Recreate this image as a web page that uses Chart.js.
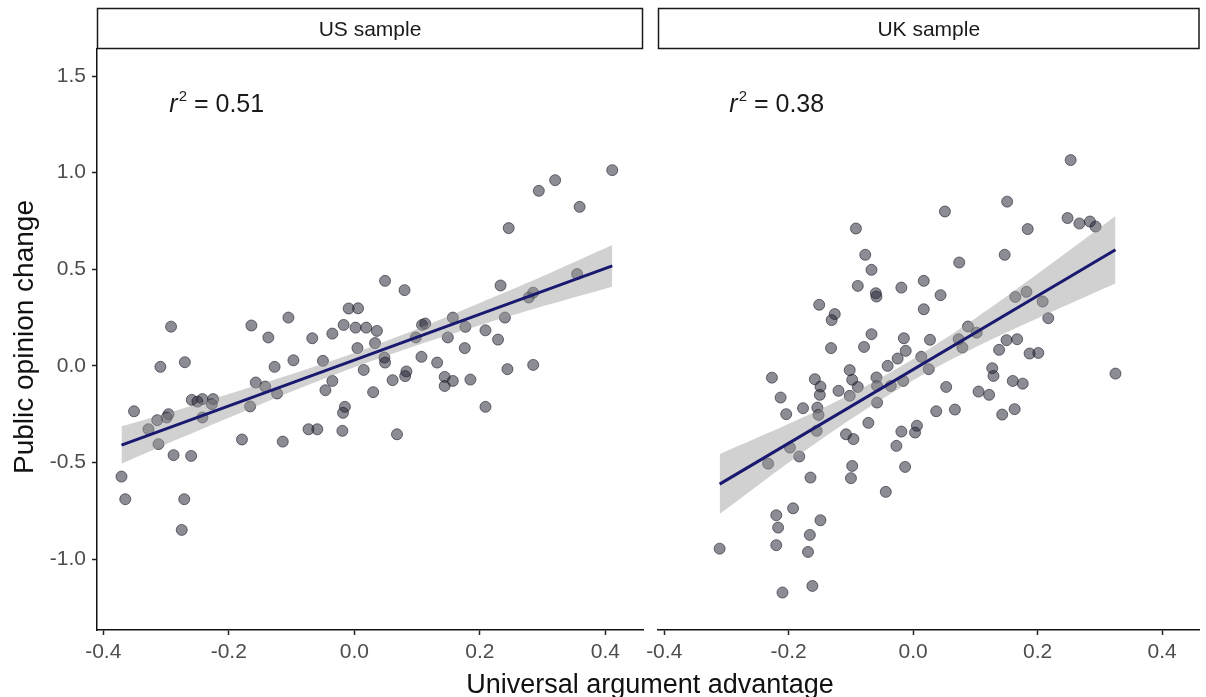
<!DOCTYPE html>
<html>
<head>
<meta charset="utf-8">
<script src="https://cdn.jsdelivr.net/npm/chart.js@4.4.0/dist/chart.umd.min.js"></script>
<style>
  body { margin: 0; background: #fff; }
  #wrap { position: relative; width: 1206px; height: 697px; font-family: 'Liberation Sans', Arial, sans-serif; }
  canvas { position: absolute; top: 0; }
  #us { left: 0; }
  #uk { left: 640px; }
  .ytitle { position: absolute; left: 24px; top: 337px; transform: translate(-50%, -50%) rotate(-90deg); font-size: 28px; color: #111; white-space: nowrap; }
  .xtitle { position: absolute; left: 650px; top: 684px; transform: translate(-50%, -50%); font-size: 27px; color: #111; white-space: nowrap; }
</style>
</head>
<body>
<div id="wrap">
  <canvas id="us" width="650" height="697"></canvas>
  <canvas id="uk" width="566" height="697"></canvas>
  <div class="ytitle">Public opinion change</div>
  <div class="xtitle">Universal argument advantage</div>
</div>
<script>
// Axis ticks shared by both facets.
const xTicks = [-0.4, -0.2, 0.0, 0.2, 0.4];
const yTicks = [-1.0, -0.5, 0.0, 0.5, 1.0, 1.5];

// US sample points.
const usX = [-0.371, -0.365, -0.271, -0.275, -0.351, -0.328, -0.314, -0.296, -0.299, -0.312, -0.288, -0.26,
  -0.309, -0.27, -0.292, -0.259, -0.25, -0.242, -0.225, -0.227, -0.242, -0.164, -0.105, -0.137, -0.067, -0.035,
  -0.009, 0.006, -0.017, 0.002, 0.019, 0.036, 0.005, 0.033, 0.015, 0.03, -0.157, -0.142, -0.127, -0.097, -0.123,
  -0.166, -0.179, -0.114, -0.073, -0.059, -0.019, -0.05, -0.035, -0.046, -0.015, -0.018, 0.049, 0.08, 0.048,
  0.049, 0.061, 0.068, 0.083, 0.081, 0.107, 0.108, 0.113, 0.098, 0.132, 0.144, 0.144, 0.157, 0.185, 0.176, 0.177,
  0.157, 0.149, 0.411, 0.32, 0.294, 0.359, 0.246, 0.355, 0.233, 0.285, 0.278, 0.24, 0.209, 0.229, 0.244, 0.285, 0.209];
const usY = [-0.573, -0.69, -0.69, -0.849, -0.235, -0.328, -0.281, -0.25, -0.267, -0.405, -0.462, -0.466,
  -0.005, 0.019, 0.203, -0.176, -0.185, -0.172, -0.172, -0.198, -0.267, 0.209, 0.25, 0.147, 0.143, 0.167,
  0.297, 0.298, 0.212, 0.198, 0.198, 0.181, 0.092, 0.118, -0.021, -0.136, -0.086, -0.107, -0.005, 0.029, -0.143,
  -0.21, -0.381, -0.392, -0.328, -0.328, -0.336, 0.026, -0.078, -0.126, -0.212, -0.243, 0.44, 0.392, 0.043,
  0.017, -0.074, -0.354, -0.029, -0.053, 0.047, 0.212, 0.219, 0.147, 0.017, -0.057, -0.104, -0.078, -0.071, 0.092, 0.202,
  0.25, 0.147, 1.013, 0.961, 0.906, 0.823, 0.713, 0.475, 0.416, 0.379, 0.354, 0.25, 0.184, 0.136, -0.017, 0.005, -0.212];

// UK sample points.
const ukX = [-0.092, -0.077, -0.067, -0.089, -0.06, -0.059, -0.019, -0.151, -0.126, -0.131, -0.132, -0.067, -0.079,
  -0.015, -0.012, -0.025, -0.041, -0.227, -0.213, -0.204, -0.177, -0.158, -0.149, -0.15, -0.154, -0.152, -0.155,
  -0.12, -0.098, -0.089, -0.102, -0.059, -0.058, -0.058, -0.072, -0.108, -0.096, -0.198, -0.183, -0.233, -0.165,
  -0.098, -0.1, -0.044, -0.027, -0.013, -0.019, 0.003, 0.006, -0.193, -0.22, -0.217, -0.22, -0.149, -0.166, -0.169,
  -0.162, -0.21, -0.311, -0.102, -0.036, -0.016, 0.017, 0.017, 0.027, 0.013, 0.025, 0.074, 0.147, 0.044, 0.088,
  0.073, 0.079, 0.102, 0.164, 0.182, 0.208, 0.217, 0.15, 0.167, 0.138, 0.187, 0.201, 0.127, 0.129, 0.16, 0.176,
  0.105, 0.122, 0.163, 0.143, 0.053, 0.067, 0.037, 0.325, 0.253, 0.151, 0.051, 0.184, 0.248, 0.267, 0.284, 0.293];
const ukY = [0.711, 0.575, 0.497, 0.414, 0.376, 0.359, 0.405, 0.316, 0.268, 0.237, 0.092, 0.164, 0.098,
  0.143, 0.078, 0.038, 0.0, -0.061, -0.164, -0.25, -0.219, -0.069, -0.107, -0.15, -0.216, -0.254, -0.336,
  -0.129, -0.072, -0.109, -0.155, -0.06, -0.104, -0.19, -0.295, -0.354, -0.379, -0.423, -0.469, -0.506, -0.578,
  -0.518, -0.581, -0.652, -0.414, -0.523, -0.34, -0.345, -0.31, -0.737, -0.773, -0.837, -0.928, -0.799, -0.875, -0.963,
  -1.139, -1.173, -0.946, -0.022, -0.104, -0.078, 0.44, 0.293, 0.135, 0.047, -0.017, 0.535, 0.575, 0.366, 0.204,
  0.138, 0.095, 0.172, 0.357, 0.383, 0.333, 0.247, 0.133, 0.138, 0.083, 0.064, 0.067, -0.012, -0.052, -0.078, -0.092,
  -0.133, -0.15, -0.224, -0.252, -0.109, -0.226, -0.235, -0.04, 1.065, 0.85, 0.799, 0.708, 0.765, 0.737, 0.747, 0.721];

// Fitted lines and their confidence bands.
const usFitX = [-0.371, 0.411];
const usFitY = [-0.410, 0.518];
const usBandX = [-0.371, -0.3, -0.2, -0.1, 0.0, 0.1, 0.2, 0.3, 0.411];
const usBandHigh = [-0.313, -0.246, -0.145, -0.043, 0.067, 0.191, 0.326, 0.464, 0.626];
const usBandLow = [-0.507, -0.406, -0.269, -0.133, -0.007, 0.107, 0.210, 0.308, 0.410];

const ukFitX = [-0.311, 0.325];
const ukFitY = [-0.612, 0.601];
const ukBandX = [-0.311, -0.2, -0.1, 0.0, 0.1, 0.2, 0.325];
const ukBandHigh = [-0.457, -0.300, -0.145, 0.036, 0.247, 0.477, 0.776];
const ukBandLow = [-0.767, -0.500, -0.275, -0.074, 0.097, 0.247, 0.426];

const FONT = "'Liberation Sans', Arial, sans-serif";

function pairs(xs, ys) {
  return xs.map((x, i) => ({ x, y: ys[i] }));
}

// Draws the ggplot-style facet strip and the r^2 label.
const facetPlugin = {
  id: 'facet',
  afterDraw(chart, args, opts) {
    const { ctx, chartArea } = chart;
    ctx.save();
    ctx.strokeStyle = '#1a1a1a';
    ctx.lineWidth = 1.5;
    ctx.strokeRect(chartArea.left + 0.5, 8.5, chartArea.right - chartArea.left - 1, 40);
    ctx.fillStyle = '#1a1a1a';
    ctx.font = '21px ' + FONT;
    ctx.textAlign = 'center';
    ctx.textBaseline = 'middle';
    ctx.fillText(opts.label, (chartArea.left + chartArea.right) / 2, 30);

    // r^2 = value, centred at a data position
    const cx = chart.scales.x.getPixelForValue(-0.22);
    const cy = chart.scales.y.getPixelForValue(1.36);
    const rest = ' = ' + opts.r2;
    ctx.textAlign = 'left';
    ctx.textBaseline = 'alphabetic';
    ctx.font = 'italic 25px ' + FONT;
    const w1 = ctx.measureText('r').width;
    ctx.font = '15px ' + FONT;
    const w2 = ctx.measureText('2').width;
    ctx.font = '25px ' + FONT;
    const w3 = ctx.measureText(rest).width;
    const x0 = cx - (w1 + w2 + w3) / 2;
    const base = cy + 9;
    ctx.font = 'italic 25px ' + FONT;
    ctx.fillText('r', x0, base);
    ctx.font = '15px ' + FONT;
    ctx.fillText('2', x0 + w1 + 1, base - 11);
    ctx.font = '25px ' + FONT;
    ctx.fillText(rest, x0 + w1 + w2 + 1, base);
    ctx.restore();
  },
};

function makePanel(id, pts, fitX, fitY, bandX, bandLow, bandHigh, opts) {
  return new Chart(document.getElementById(id), {
    type: 'scatter',
    data: {
      datasets: [
        {
          type: 'line',
          data: pairs(fitX, fitY),
          borderColor: '#191970',
          borderWidth: 3,
          pointRadius: 0,
          fill: false,
          order: 1,
        },
        {
          type: 'line',
          data: pairs(bandX, bandLow),
          borderWidth: 0,
          pointRadius: 0,
          fill: false,
          tension: 0.3,
          order: 2,
        },
        {
          type: 'line',
          data: pairs(bandX, bandHigh),
          borderWidth: 0,
          pointRadius: 0,
          fill: '-1',
          backgroundColor: 'rgba(153,153,153,0.45)',
          tension: 0.3,
          order: 2,
        },
        {
          data: pts,
          pointRadius: 5.5,
          pointBorderWidth: 1,
          pointBackgroundColor: 'rgba(35,35,50,0.52)',
          pointBorderColor: 'rgba(30,30,45,0.6)',
          order: 3,
        },
      ],
    },
    options: {
      responsive: false,
      animation: false,
      events: [],
      layout: { padding: { top: 49, right: opts.padRight, left: opts.padLeft, bottom: 0 } },
      plugins: {
        legend: { display: false },
        tooltip: { enabled: false },
        facet: { label: opts.label, r2: opts.r2 },
      },
      scales: {
        x: {
          type: 'linear',
          min: -0.41,
          max: 0.46,
          afterBuildTicks: (s) => { s.ticks = xTicks.map((v) => ({ value: v })); },
          afterFit: (s) => { s.height = 67; },
          grid: { drawOnChartArea: false, drawTicks: true, tickLength: 5, tickWidth: 1.5, tickColor: '#222' },
          border: { display: true, color: '#111', width: 1.5 },
          ticks: {
            callback: (v) => Number(v).toFixed(1),
            font: { size: 21, family: FONT },
            color: '#4d4d4d',
            padding: 5,
            maxRotation: 0,
            autoSkip: false,
          },
        },
        y: {
          type: 'linear',
          display: opts.showY,
          min: -1.367,
          max: 1.64,
          afterBuildTicks: (s) => { s.ticks = yTicks.map((v) => ({ value: v })); },
          afterFit: (s) => { s.width = opts.showY ? 97 : 0; },
          grid: { drawOnChartArea: false, drawTicks: true, tickLength: 5, tickWidth: 1.5, tickColor: '#222' },
          border: { display: true, color: '#111', width: 1.5 },
          ticks: {
            callback: (v) => Number(v).toFixed(1),
            font: { size: 21, family: FONT },
            color: '#4d4d4d',
            padding: 6,
          },
        },
      },
    },
    plugins: [facetPlugin],
  });
}

makePanel('us', pairs(usX, usY), usFitX, usFitY, usBandX, usBandLow, usBandHigh,
  { label: 'US sample', r2: '0.51', showY: true, padLeft: 0, padRight: 7 });
makePanel('uk', pairs(ukX, ukY), ukFitX, ukFitY, ukBandX, ukBandLow, ukBandHigh,
  { label: 'UK sample', r2: '0.38', showY: false, padLeft: 18, padRight: 3 });
</script>
</body>
</html>
